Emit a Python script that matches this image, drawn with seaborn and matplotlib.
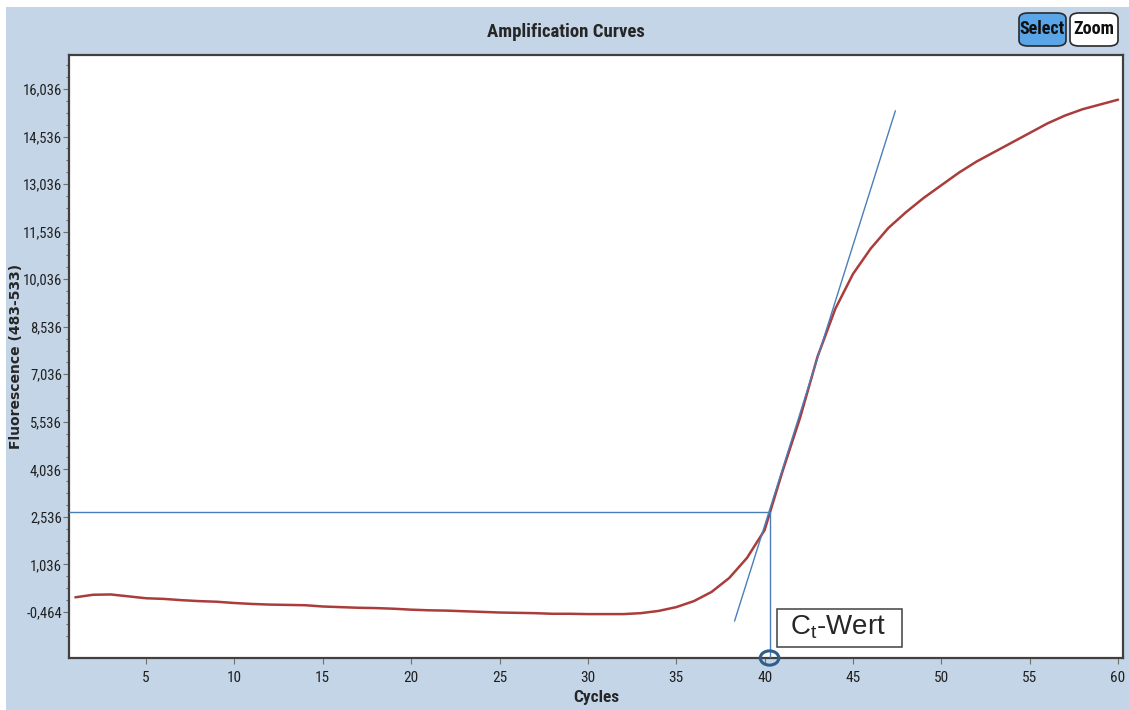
import matplotlib
matplotlib.use("Agg")
import numpy as np
import pandas as pd
import seaborn as sns
import matplotlib.pyplot as plt
from matplotlib.patches import Ellipse, FancyBboxPatch, Rectangle
from matplotlib.ticker import FixedLocator, FuncFormatter

# amplification curve, one value per cycle
cycles = list(range(1, 61))
fluorescence = [
    0.00, 0.08, 0.09, 0.03, -0.03, -0.05, -0.09, -0.12, -0.14, -0.18,
    -0.21, -0.23, -0.24, -0.25, -0.29, -0.31, -0.33, -0.34, -0.36, -0.39,
    -0.41, -0.42, -0.44, -0.46, -0.48, -0.49, -0.50, -0.52, -0.52, -0.53,
    -0.53, -0.53, -0.50, -0.43, -0.31, -0.12, 0.17, 0.61, 1.24, 2.12,
    3.95, 5.65, 7.60, 9.10, 10.20, 11.00, 11.65, 12.15, 12.60, 13.00,
    13.40, 13.75, 14.05, 14.35, 14.65, 14.95, 15.20, 15.40, 15.55, 15.70,
]

# tangent through the steepest part, threshold and Ct
tangent_x = [38.3, 47.4]
tangent_y = [-0.75, 15.35]
threshold = 2.70
ct_cycle = 40.28

x_ticks = [5, 10, 15, 20, 25, 30, 35, 40, 45, 50, 55, 60]
y_ticks = [-0.464, 1.036, 2.536, 4.036, 5.536, 7.036, 8.536,
           10.036, 11.536, 13.036, 14.536, 16.036]
x_range = (0.64, 60.28)
y_range = (-1.915, 17.11)

bg = "#c3d5e6"
red = "#aa3c3c"
blue = "#4a7ebb"
frame = "#404040"
narrow = ["Liberation Sans Narrow", "DejaVu Sans Condensed", "Roboto Condensed", "Liberation Sans"]
cond = dict(family=narrow, stretch="condensed")

sns.set_style("white")
plt.rcParams["font.family"] = ["Liberation Sans", "DejaVu Sans"]
plt.rcParams["mathtext.fontset"] = "custom"
plt.rcParams["mathtext.rm"] = "Liberation Sans"

W, H = 1129, 710
fig = plt.figure(figsize=(W / 100, H / 100), dpi=100, facecolor="white")
fig.patches.append(Rectangle((6 / W, 0), 1 - 6 / W, 1 - 7 / H, transform=fig.transFigure,
                             facecolor=bg, edgecolor="none", zorder=-5))

ax = fig.add_axes([69 / W, 1 - 658 / H, (1123 - 69) / W, (658 - 55) / H])
ax.set_zorder(2)
ax.set_facecolor("white")

df = pd.DataFrame({"cycle": cycles, "value": fluorescence})
sns.lineplot(data=df, x="cycle", y="value", ax=ax, color=red, lw=1.8, zorder=3)

ax.plot(tangent_x, tangent_y, color=blue, lw=1.0, zorder=4)
ax.plot([x_range[0], ct_cycle], [threshold, threshold], color=blue, lw=1.0, zorder=4)
ax.plot([ct_cycle, ct_cycle], [y_range[0], threshold], color=blue, lw=1.0, zorder=4)

ax.add_patch(Ellipse((ct_cycle, y_range[0]), 1.05, 0.45, facecolor="none",
                     edgecolor="#2f5d8c", lw=2.2, clip_on=False, zorder=6))

# Ct-Wert label box
ax.add_patch(Rectangle((40.68, -1.57), 7.07, 1.20, facecolor="white",
                       edgecolor=frame, lw=1.1, zorder=5))
ax.text(41.45, -0.93, r"C$_\mathrm{t}$-Wert", fontsize=20, va="center", ha="left",
        family=["Liberation Sans", "DejaVu Sans"], zorder=6)

ax.set_xlim(*x_range)
ax.set_ylim(*y_range)
ax.xaxis.set_major_locator(FixedLocator(x_ticks))
ax.yaxis.set_major_locator(FixedLocator(y_ticks))
ax.yaxis.set_minor_locator(FixedLocator(
    [t + k * 0.375 for t in y_ticks for k in (1, 2, 3)] + [y_ticks[0] - 0.375, y_ticks[0] - 0.75]))
ax.yaxis.set_major_formatter(FuncFormatter(lambda v, p: f"{v:.3f}".replace(".", ",")))

ax.tick_params(axis="both", which="major", direction="out", length=4, width=0.8,
               color="#707070", labelsize=10.5, pad=1, labelcolor="#202020")
ax.tick_params(axis="y", which="minor", direction="out", length=2, width=0.8,
               color="#707070", left=True)
ax.tick_params(axis="x", bottom=True, pad=5, labelsize=11)
ax.tick_params(axis="y", left=True)
for lab in ax.get_xticklabels() + ax.get_yticklabels():
    lab.set_family(narrow)
    lab.set_stretch("condensed")

for side in ["left", "right", "top", "bottom"]:
    ax.spines[side].set_visible(True)
    ax.spines[side].set_color(frame)
    ax.spines[side].set_linewidth(1.6)

ax.set_xlabel("Cycles", fontsize=12.5, fontweight="bold", **cond)
ax.xaxis.set_label_coords(0.5, -32 / (658 - 55))
ax.set_ylabel("Fluorescence (483-533)", fontsize=10, fontweight="bold",
              family=["DejaVu Sans"])
ax.yaxis.set_label_coords(-46 / (1123 - 69), 0.5)

fig.text(566 / W, 1 - 32 / H, "Amplification Curves", ha="center", va="center",
         fontsize=13.5, fontweight="bold", **cond)

# Select / Zoom buttons
for label, x0, x1, fill in [("Select", 1019, 1066, "#5aa5e8"), ("Zoom", 1070, 1118, "white")]:
    fig.patches.append(FancyBboxPatch((x0 / W, 1 - 46 / H), (x1 - x0) / W, 33 / H,
                                      boxstyle="round,pad=0,rounding_size=0.008",
                                      transform=fig.transFigure, facecolor=fill,
                                      edgecolor="#2a2a2a", lw=1.2, zorder=2))
    fig.text((x0 + x1) / 2 / W, 1 - 29.5 / H, label, ha="center", va="center",
             fontsize=13, fontweight="bold", color="#101010", zorder=3, **cond)

fig.savefig("out.png", dpi=100, facecolor=fig.get_facecolor())
